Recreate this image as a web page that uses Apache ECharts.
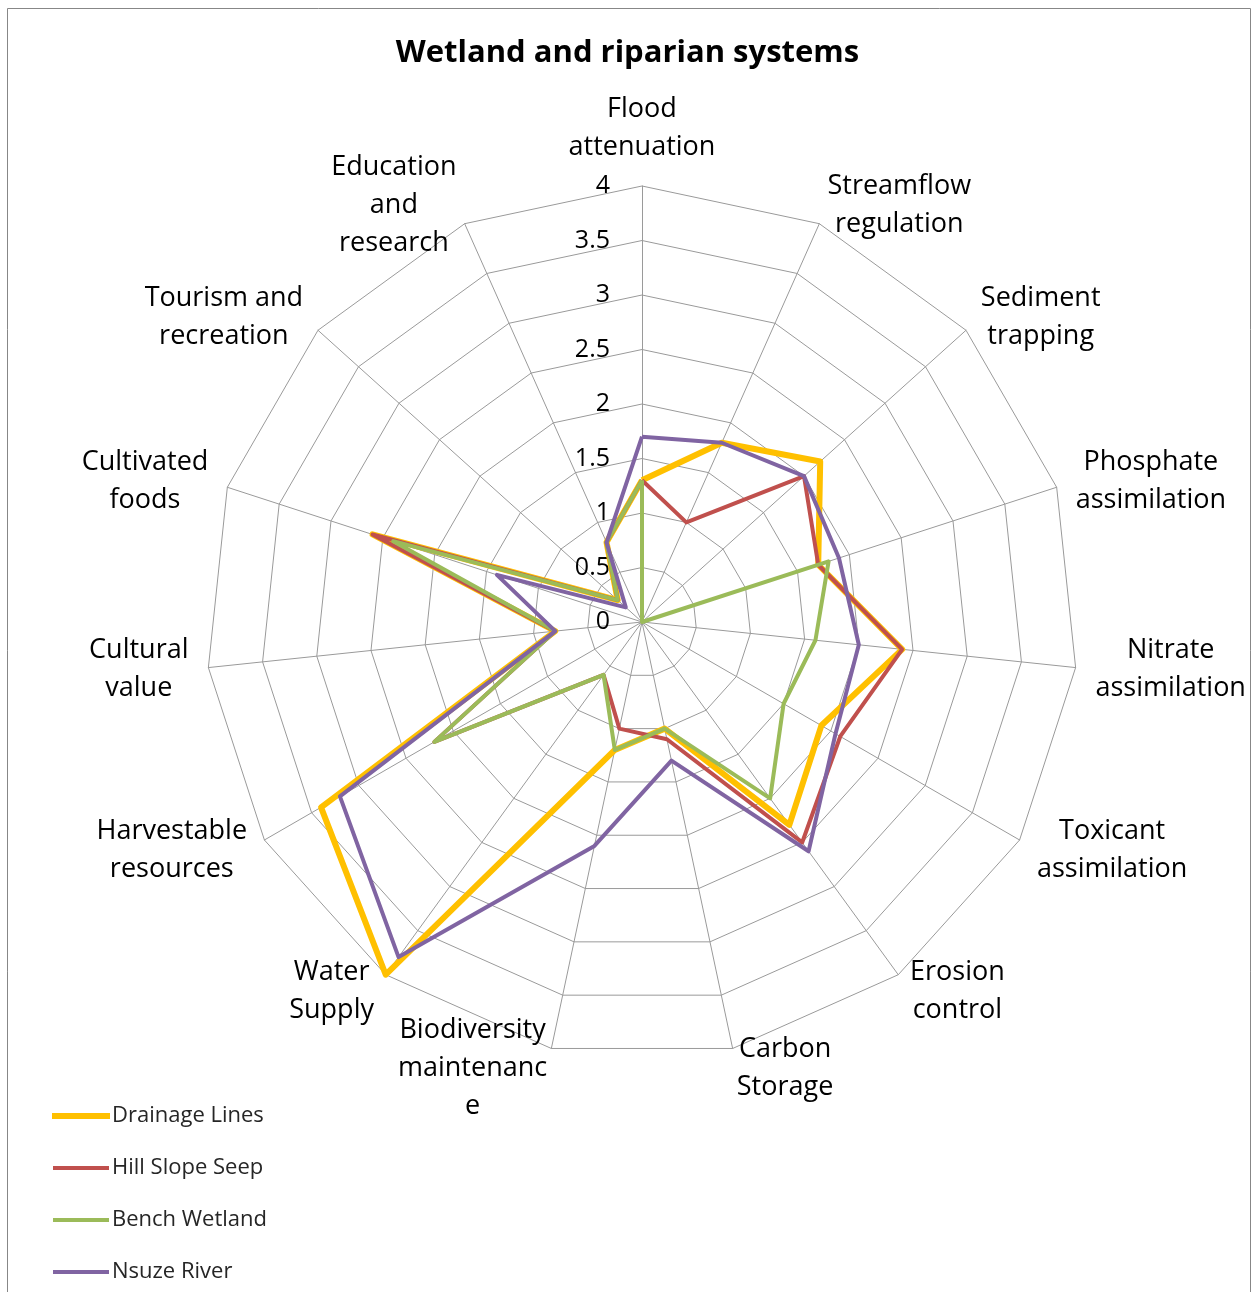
<!DOCTYPE html>
<html>
<head>
<meta charset="utf-8">
<title>Wetland and riparian systems</title>
<script src="https://cdn.jsdelivr.net/npm/echarts@6.0.0/dist/echarts.min.js"></script>
<style>
html, body { margin: 0; padding: 0; background: #fff; }
#radarchart { width: 1255px; height: 1292px; }
</style>
</head>
<body>
<div id="radarchart"></div>
<script>
// services, clockwise from the top
var services = ['Flood\nattenuation', 'Streamflow\nregulation', 'Sediment\ntrapping',
	'Phosphate\nassimilation', 'Nitrate\nassimilation', 'Toxicant\nassimilation',
	'Erosion\ncontrol', 'Carbon\nStorage', 'Biodiversity\nmaintenanc\ne', 'Water\nSupply',
	'Harvestable\nresources', 'Cultural\nvalue', 'Cultivated\nfoods', 'Tourism and\nrecreation',
	'Education\nand\nresearch'];
var drainageLines = [1.3, 1.8, 2.2, 1.7, 2.4, 1.9, 2.3, 1.0, 1.2, 4.0, 3.4, 0.8, 2.6, 0.3, 0.8];
var hillSlopeSeep = [1.3, 1.0, 2.0, 1.7, 2.4, 2.1, 2.5, 1.1, 1.0, 0.6, 2.2, 0.8, 2.6, 0.3, 0.8];
var benchWetland = [1.3, 0, 0, 1.8, 1.6, 1.5, 2.0, 1.0, 1.2, 0.6, 2.2, 0.8, 2.4, 0.3, 0.8];
var nsuzeRiver = [1.7, 1.8, 2.0, 1.9, 2.0, 2.05, 2.6, 1.3, 2.1, 3.8, 3.2, 0.8, 1.4, 0.2, 0.8];
var scaleMin = 0;
var scaleMax = 4;
var scaleStep = 0.5;

function initRadar(){
	var chart = echarts.init(document.getElementById('radarchart'));
	var font = '"Open Sans", "Noto Sans", sans-serif';
	// echarts lays indicators out counter-clockwise, the picture goes clockwise
	function clockwise(arr){
		return [arr[0]].concat(arr.slice(1).reverse());
	}
	var center = [642, 622];
	var radius = 436;

	var series = [
		{ name: 'Drainage Lines', values: drainageLines, color: '#FFC000', width: 6 },
		{ name: 'Hill Slope Seep', values: hillSlopeSeep, color: '#C0504D', width: 4 },
		{ name: 'Bench Wetland', values: benchWetland, color: '#9BBB59', width: 4 },
		{ name: 'Nsuze River', values: nsuzeRiver, color: '#8064A2', width: 4 }
	];

	var option = {
		animation: false,
		title: {
			text: 'Wetland and riparian systems',
			left: 'center',
			top: 33,
			textStyle: { fontFamily: font, fontSize: 31, fontWeight: 'bold', color: '#000' }
		},
		graphic: [{
			type: 'rect',
			shape: { x: 7.5, y: 8.5, width: 1243, height: 1300 },
			style: { fill: 'none', stroke: '#878787', lineWidth: 1 },
			silent: true
		}],
		legend: {
			orient: 'vertical',
			left: 52,
			top: 1103,
			padding: 0,
			itemWidth: 56,
			itemHeight: 4,
			itemGap: 26,
			icon: 'rect',
			textStyle: { fontFamily: font, fontSize: 22, color: '#262626', lineHeight: 26, padding: [0, 0, 0, -2] },
			data: series.map(function(s){
				return {
					name: s.name,
					itemStyle: { color: s.color, borderColor: s.color, borderWidth: s.width > 4 ? 2 : 0 }
				};
			})
		},
		radar: {
			center: center,
			radius: radius,
			shape: 'polygon',
			splitNumber: (scaleMax - scaleMin) / scaleStep,
			nameGap: 20,
			axisName: {
				color: '#000',
				fontFamily: font,
				fontSize: 27,
				lineHeight: 38,
				formatter: function(name){
					return name.split('\n').map(function(line){ return '{c|' + line + '}'; }).join('\n');
				},
				rich: {
					c: { align: 'center', fontFamily: font, fontSize: 27, lineHeight: 38, color: '#000' }
				}
			},
			axisLine: { lineStyle: { color: '#9a9a9a', width: 1 } },
			splitLine: { lineStyle: { color: '#9a9a9a', width: 1 } },
			splitArea: { show: false },
			axisTick: { show: false },
			axisLabel: { show: false },
			indicator: clockwise(services).map(function(n){
				return { name: n, min: scaleMin, max: scaleMax };
			})
		},
		// polar overlay only to print the value scale along the top spoke
		polar: { center: center, radius: radius },
		angleAxis: { show: false, startAngle: 90, min: 0, max: 360 },
		radiusAxis: {
			min: scaleMin,
			max: scaleMax,
			interval: scaleStep,
			axisLine: { show: false },
			axisTick: { show: false },
			splitLine: { show: false },
			axisLabel: { show: true, margin: 32, color: '#000', fontFamily: font, fontSize: 25 }
		},
		series: series.map(function(s){
			return {
				name: s.name,
				type: 'radar',
				symbol: 'none',
				itemStyle: { color: s.color },
				lineStyle: { color: s.color, width: s.width },
				data: [{ name: s.name, value: clockwise(s.values) }]
			};
		})
	};
	chart.setOption(option);
}

initRadar();
</script>
</body>
</html>
